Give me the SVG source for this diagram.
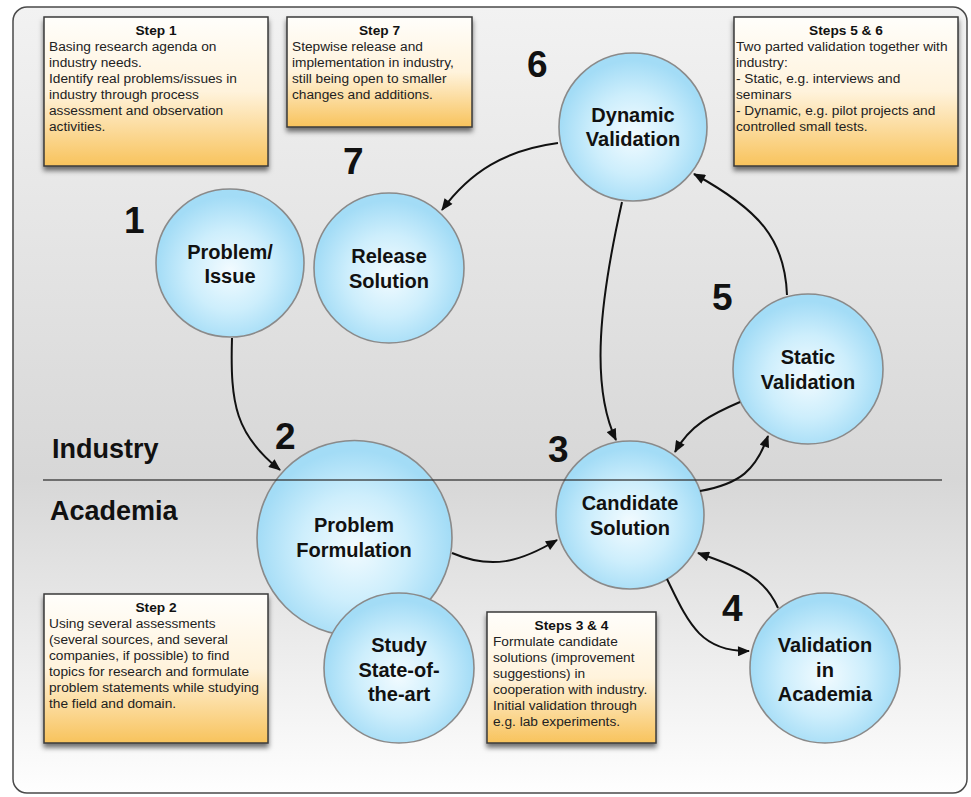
<svg xmlns="http://www.w3.org/2000/svg" width="971" height="797" viewBox="0 0 971 797">
<defs>
<linearGradient id="bg" x1="0" y1="0" x2="0" y2="1">
<stop offset="0" stop-color="#f2f2f2"/>
<stop offset="0.6" stop-color="#d7d7d7"/>
<stop offset="1" stop-color="#fefefe"/>
</linearGradient>
<linearGradient id="note" x1="0" y1="0" x2="0" y2="1">
<stop offset="0" stop-color="#fffefb"/>
<stop offset="0.5" stop-color="#fff3dc"/>
<stop offset="1" stop-color="#f8c35c"/>
</linearGradient>
<radialGradient id="ball" cx="0.5" cy="0.55" r="0.5">
<stop offset="0" stop-color="#f2fbff"/>
<stop offset="0.55" stop-color="#cdeefc"/>
<stop offset="1" stop-color="#a3dcf6"/>
</radialGradient>
<filter id="sh" x="-10%" y="-10%" width="120%" height="130%">
<feDropShadow dx="0" dy="4" stdDeviation="2.5" flood-color="#000" flood-opacity="0.55"/>
</filter>
<marker id="ah" viewBox="0 0 12 10" refX="11" refY="5" markerWidth="13" markerHeight="10" markerUnits="userSpaceOnUse" orient="auto">
<path d="M0,0 L12,5 L0,10 z" fill="#111"/>
</marker>
<style>
.note{fill:url(#note);stroke:#3a3a3a;stroke-width:1.5;filter:url(#sh)}
.nt{font-family:"Liberation Sans",Arial,sans-serif;font-size:13.7px;fill:#222}
.ntt{font-family:"Liberation Sans",Arial,sans-serif;font-size:13.7px;font-weight:bold;fill:#111;text-anchor:middle}
.ball{fill:url(#ball);stroke:#8a8a8a;stroke-width:1.6}
.bt{font-family:"Liberation Sans",Arial,sans-serif;font-size:20px;font-weight:bold;fill:#111;text-anchor:middle}
.num{font-family:"Liberation Sans",Arial,sans-serif;font-size:37px;font-weight:bold;fill:#111}
.lane{font-family:"Liberation Sans",Arial,sans-serif;font-size:27px;font-weight:bold;fill:#111}
.c{fill:none;stroke:#111;stroke-width:2;marker-end:url(#ah)}
</style>
</defs>
<rect x="13" y="7" width="954" height="786" rx="14" fill="url(#bg)" stroke="#4a4a4a" stroke-width="1.5"/>

<g id="lanes">
<text class="lane" x="52" y="458">Industry</text>
<text class="lane" x="50" y="520">Academia</text>
</g>

<g id="note-step1">
<rect class="note" x="44" y="17" width="224" height="149"/>
<text class="ntt" x="156" y="35">Step 1</text>
<text class="nt" x="49" y="51">Basing research agenda on</text>
<text class="nt" x="49" y="67">industry needs.</text>
<text class="nt" x="49" y="83">Identify real problems/issues in</text>
<text class="nt" x="49" y="99">industry through process</text>
<text class="nt" x="49" y="115">assessment and observation</text>
<text class="nt" x="49" y="131">activities.</text>
</g>
<g id="note-step7">
<rect class="note" x="287" y="17" width="185" height="110"/>
<text class="ntt" x="379.5" y="35">Step 7</text>
<text class="nt" x="292" y="51">Stepwise release and</text>
<text class="nt" x="292" y="67">implementation in industry,</text>
<text class="nt" x="292" y="83">still being open to smaller</text>
<text class="nt" x="292" y="99">changes and additions.</text>
</g>
<g id="note-step56">
<rect class="note" x="734" y="17" width="224" height="149"/>
<text class="ntt" x="846" y="35">Steps 5 &amp; 6</text>
<text class="nt" x="736" y="51">Two parted validation together with</text>
<text class="nt" x="736" y="67">industry:</text>
<text class="nt" x="736" y="83">- Static, e.g. interviews and</text>
<text class="nt" x="736" y="99">seminars</text>
<text class="nt" x="736" y="115">- Dynamic, e.g. pilot projects and</text>
<text class="nt" x="736" y="131">controlled small tests.</text>
</g>
<g id="note-step2">
<rect class="note" x="44" y="594" width="224" height="149"/>
<text class="ntt" x="156" y="612">Step 2</text>
<text class="nt" x="49" y="628">Using several assessments</text>
<text class="nt" x="49" y="644">(several sources, and several</text>
<text class="nt" x="49" y="660">companies, if possible) to find</text>
<text class="nt" x="49" y="676">topics for research and formulate</text>
<text class="nt" x="49" y="692">problem statements while studying</text>
<text class="nt" x="49" y="708">the field and domain.</text>
</g>
<g id="note-step34">
<rect class="note" x="487" y="612" width="169" height="131"/>
<text class="ntt" x="571.5" y="630">Steps 3 &amp; 4</text>
<text class="nt" x="493" y="646">Formulate candidate</text>
<text class="nt" x="493" y="662">solutions (improvement</text>
<text class="nt" x="493" y="678">suggestions) in</text>
<text class="nt" x="493" y="694">cooperation with industry.</text>
<text class="nt" x="493" y="710">Initial validation through</text>
<text class="nt" x="493" y="726">e.g. lab experiments.</text>
</g>

<g id="numbers">
<text class="num" x="124" y="233">1</text>
<text class="num" x="275" y="449">2</text>
<text class="num" x="548" y="462">3</text>
<text class="num" x="722" y="621">4</text>
<text class="num" x="712" y="310">5</text>
<text class="num" x="527" y="77">6</text>
<text class="num" x="343" y="174">7</text>
</g>

<g id="node-problem-issue">
<circle class="ball" cx="230" cy="263" r="74"/>
<text class="bt" x="230" y="259">Problem/</text>
<text class="bt" x="230" y="283">Issue</text>
</g>
<g id="node-release-solution">
<circle class="ball" cx="389" cy="268" r="75"/>
<text class="bt" x="389" y="263">Release</text>
<text class="bt" x="389" y="288">Solution</text>
</g>
<g id="node-dynamic-validation">
<circle class="ball" cx="633" cy="127" r="74"/>
<text class="bt" x="633" y="122">Dynamic</text>
<text class="bt" x="633" y="146">Validation</text>
</g>
<g id="node-static-validation">
<circle class="ball" cx="808" cy="369" r="75"/>
<text class="bt" x="808" y="364">Static</text>
<text class="bt" x="808" y="389">Validation</text>
</g>
<g id="node-problem-formulation">
<circle class="ball" cx="354.5" cy="538" r="97.5"/>
<text class="bt" x="354" y="532">Problem</text>
<text class="bt" x="354" y="557">Formulation</text>
</g>
<g id="node-study-state">
<circle class="ball" cx="399" cy="668" r="75"/>
<text class="bt" x="399" y="652">Study</text>
<text class="bt" x="399" y="677">State-of-</text>
<text class="bt" x="399" y="701">the-art</text>
</g>
<g id="node-candidate-solution">
<circle class="ball" cx="630" cy="515" r="74"/>
<text class="bt" x="630" y="510">Candidate</text>
<text class="bt" x="630" y="535">Solution</text>
</g>
<g id="node-validation-academia">
<circle class="ball" cx="825" cy="668" r="75"/>
<text class="bt" x="825" y="652">Validation</text>
<text class="bt" x="825" y="677">in</text>
<text class="bt" x="825" y="701">Academia</text>
</g>

<line id="divider" x1="43" y1="480" x2="942" y2="480" stroke="#333" stroke-width="1.3" stroke-opacity="0.85"/>

<g id="connectors">
<path class="c" d="M232,338 C230,405 236,435 280,470"/>
<path class="c" d="M558,143 C505,150 470,172 442,210"/>
<path class="c" d="M622,202 C600,300 590,385 616,440"/>
<path class="c" d="M787,295 C785,240 760,210 694,174"/>
<path class="c" d="M740,402 C712,414 690,425 675,452"/>
<path class="c" d="M700,491 C740,484 756,470 768,436"/>
<path class="c" d="M452,553 C492,570 520,562 557,540"/>
<path class="c" d="M667,579 C688,622 700,652 749,651"/>
<path class="c" d="M778,608 C765,578 742,568 698,553"/>
</g>
</svg>
